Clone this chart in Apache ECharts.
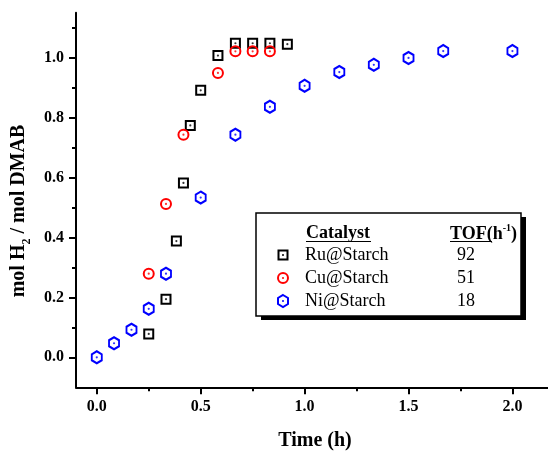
<!DOCTYPE html>
<html><head><meta charset="utf-8">
<script src="https://cdn.jsdelivr.net/npm/echarts@6/dist/echarts.min.js"></script>
<style>html,body{margin:0;padding:0;background:#fff}#c{width:548px;height:453px}</style>
</head><body><div id="c"></div>
<script>
// ---- data ----
const ruTime = [0.25, 0.333, 0.383, 0.417, 0.45, 0.5, 0.583, 0.667, 0.75, 0.833, 0.917];
const ruMol  = [0.078, 0.194, 0.388, 0.582, 0.774, 0.891, 1.007, 1.048, 1.048, 1.048, 1.045];
const cuTime = [0.25, 0.333, 0.417, 0.583, 0.667, 0.75, 0.833];
const cuMol  = [0.279, 0.512, 0.743, 0.949, 1.021, 1.021, 1.021];
const niTime = [0, 0.083, 0.167, 0.25, 0.333, 0.5, 0.667, 0.833, 1.0, 1.167, 1.333, 1.5, 1.667, 2.0];
const niMol  = [0, 0.047, 0.092, 0.162, 0.279, 0.533, 0.743, 0.836, 0.906, 0.952, 0.976, 0.999, 1.022, 1.022];
const catalysts = ['Ru@Starch', 'Cu@Starch', 'Ni@Starch'];
const tofValues = ['92', '51', '18'];
const xMajorTicks = [0, 0.5, 1, 1.5, 2];
const xMinorTicks = [0.25, 0.75, 1.25, 1.75];
const yMajorTicks = [0, 0.2, 0.4, 0.6, 0.8, 1.0];
const yMinorTicks = [0.1, 0.3, 0.5, 0.7, 0.9, 1.1];

const FONT = '"Liberation Serif", "Times New Roman", serif';
const colors = ['#000000', '#ff0000', '#0000ff'];
const HEX = 'path://M0,-10L8.66,-5L8.66,5L0,10L-8.66,5L-8.66,-5Z';
const symbols = ['rect', 'circle', HEX];
const sizes = [[9, 9], [10, 10], [10, 12]];

function pairs(xs, ys) { return xs.map((x, i) => [x, ys[i]]); }
const datasets = [pairs(ruTime, ruMol), pairs(cuTime, cuMol), pairs(niTime, niMol)];

const series = [];
datasets.forEach((d, i) => {
  series.push({
    name: catalysts[i], type: 'scatter', data: d,
    symbol: symbols[i], symbolSize: sizes[i],
    itemStyle: { color: 'rgba(0,0,0,0)', borderColor: colors[i], borderWidth: 2, opacity: 1 },
    emphasis: { disabled: true }, z: 3 + i
  });
  series.push({
    name: catalysts[i] + ' dot', type: 'scatter', data: d,
    symbol: 'circle', symbolSize: 2.2,
    itemStyle: { color: colors[i] }, emphasis: { disabled: true }, silent: true, z: 3 + i
  });
});

const labelStyle = { color: '#000', fontFamily: FONT, fontWeight: 'bold', fontSize: 16 };
function tickAxis(min, max, pos, ticks, len, showLine) {
  return {
    type: 'value', min: min, max: max, position: pos, splitLine: { show: false },
    axisLine: { show: showLine, onZero: false, lineStyle: { color: '#000', width: 2 } },
    axisTick: { show: true, inside: false, length: len, customValues: ticks, lineStyle: { color: '#000', width: 2 } },
    axisLabel: { show: false }
  };
}

// ---- legend box (graphic) ----
const boxL = 256, boxT = 213, boxW = 265, boxH = 103;
const rowY = [255, 278, 301];
const graphics = [
  { type: 'rect', shape: { x: boxL + 5, y: boxT + 4, width: boxW, height: boxH }, style: { fill: '#000' }, z: 20 },
  { type: 'rect', shape: { x: boxL, y: boxT, width: boxW, height: boxH }, style: { fill: '#fff', stroke: '#000', lineWidth: 1.5 }, z: 21 },
  { type: 'text', x: 306, y: 233, style: { text: 'Catalyst', font: 'bold 18px ' + FONT, fill: '#000', verticalAlign: 'middle' }, z: 22 },
  { type: 'line', shape: { x1: 306, y1: 241.5, x2: 371, y2: 241.5 }, style: { stroke: '#000', lineWidth: 1.2 }, z: 22 },
  { type: 'text', x: 450, y: 233, style: {
      text: '{b|TOF(h}{s|-1}{b|)}', verticalAlign: 'middle', fill: '#000',
      rich: { b: { font: 'bold 18px ' + FONT, fill: '#000', verticalAlign: 'bottom', lineHeight: 20 },
              s: { font: 'bold 10px ' + FONT, fill: '#000', verticalAlign: 'top', lineHeight: 20 } } }, z: 22 },
  { type: 'line', shape: { x1: 450, y1: 241.5, x2: 492, y2: 241.5 }, style: { stroke: '#000', lineWidth: 1.2 }, z: 22 }
];
catalysts.forEach((name, i) => {
  const cx = 283, cy = rowY[i];
  let shape;
  if (i === 0) shape = { type: 'rect', shape: { x: cx - 4.5, y: cy - 4.5, width: 9, height: 9 } };
  else if (i === 1) shape = { type: 'ellipse', shape: { cx: cx, cy: cy, rx: 5, ry: 5 } };
  else shape = { type: 'polygon', shape: { points: [[cx, cy - 6], [cx + 5, cy - 3], [cx + 5, cy + 3], [cx, cy + 6], [cx - 5, cy + 3], [cx - 5, cy - 3]] } };
  shape.style = { fill: 'none', stroke: colors[i], lineWidth: 2 };
  shape.z = 22;
  graphics.push(shape);
  graphics.push({ type: 'circle', shape: { cx: cx, cy: cy, r: 1 }, style: { fill: colors[i] }, z: 23 });
  graphics.push({ type: 'text', x: 305, y: cy, style: { text: name, font: '18px ' + FONT, fill: '#000', verticalAlign: 'middle' }, z: 22 });
  graphics.push({ type: 'text', x: 466, y: cy, style: { text: tofValues[i], font: '18px ' + FONT, fill: '#000', verticalAlign: 'middle', align: 'center' }, z: 22 });
});

// main axes: line + labels + names; extra axes: major and minor ticks
const xMain = tickAxis(-0.1, 2.2, 'bottom', xMajorTicks, 7, true);
xMain.axisLabel = Object.assign({ show: true, margin: 12, customValues: xMajorTicks, formatter: v => v.toFixed(1) }, labelStyle);
xMain.name = 'Time (h)'; xMain.nameLocation = 'middle'; xMain.nameGap = 44;
xMain.nameTextStyle = { color: '#000', fontFamily: FONT, fontWeight: 'bold', fontSize: 20 };

const yMain = tickAxis(-0.1, 1.15, 'left', yMajorTicks, 7, true);
yMain.axisLabel = Object.assign({ show: true, margin: 12, customValues: yMajorTicks, formatter: v => v.toFixed(1) }, labelStyle);
yMain.name = '{a|mol H}{s|2}{a| / mol DMAB}'; yMain.nameLocation = 'middle'; yMain.nameGap = 34; yMain.nameRotate = 90;
yMain.nameTextStyle = { color: '#000', padding: [0, 22, 0, 0],
  rich: { a: { fontFamily: FONT, fontWeight: 'bold', fontSize: 20, color: '#000', verticalAlign: 'top', lineHeight: 24 },
          s: { fontFamily: FONT, fontWeight: 'bold', fontSize: 12, color: '#000', verticalAlign: 'bottom', lineHeight: 24 } } };

const chart = echarts.init(document.getElementById('c'), null, { renderer: 'canvas' });
chart.setOption({
  animation: false,
  backgroundColor: '#fff',
  grid: { left: 76, right: -6, top: 12.7, bottom: 65.7, containLabel: false, outerBoundsMode: 'none' },
  xAxis: [xMain, tickAxis(-0.1, 2.2, 'bottom', xMajorTicks, 7, false), tickAxis(-0.1, 2.2, 'bottom', xMinorTicks, 4, false)],
  yAxis: [yMain, tickAxis(-0.1, 1.15, 'left', yMajorTicks, 7, false), tickAxis(-0.1, 1.15, 'left', yMinorTicks, 4, false)],
  series: series,
  graphic: graphics
});
</script>
</body></html>
